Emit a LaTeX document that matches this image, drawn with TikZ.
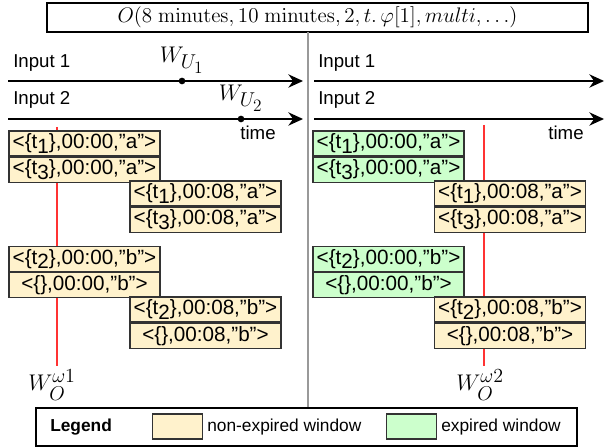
\RequirePackage{fix-cm}
\documentclass[tikz,border=0pt]{standalone}
\usepackage{amsmath}
\usepackage[no-math]{fontspec}
\setmainfont{Liberation Sans}
\usepackage{tikz}
\usetikzlibrary{arrows.meta, positioning}
\definecolor{winyellow}{HTML}{FFF2CC}
\definecolor{wingreen}{HTML}{CCFFCC}
\definecolor{winred}{HTML}{FF3333}
\DeclareMathSizes{17}{17}{15}{13}
\newcommand{\tsub}[1]{\raisebox{-0.45ex}{#1}}
\newcommand{\tfont}{\fontsize{14}{16}\selectfont}

\begin{document}
\begin{tikzpicture}[
  x=0.75pt, y=-0.75pt,
  win/.style={draw=black!80, line width=0.9pt, inner sep=0pt,
              minimum width=113.2pt, minimum height=18.8pt,
              font=\fontsize{15.5}{17}\selectfont},
  winy/.style={win, fill=winyellow},
  wing/.style={win, fill=wingreen},
  swatch/.style={draw=black!80, line width=0.9pt, minimum width=38pt,
                 minimum height=18.8pt, inner sep=0pt},
  tline/.style={-{Stealth[length=11pt, width=10pt]}, line width=1.1pt},
  wline/.style={winred, line width=1.2pt, shorten >=3pt},
  dot/.style={circle, fill, inner sep=0pt, minimum size=5pt},
  lbl/.style={font=\tfont, inner sep=0pt},
  mlbl/.style={font=\fontsize{17}{19}\selectfont, inner sep=0pt}
]
  \useasboundingbox (0,0) rectangle (605,448);

  % - title + divider -
  \node[draw, line width=0.9pt, minimum width=405.8pt, minimum height=21.8pt,
        inner sep=0pt, font=\fontsize{15.8}{18}\selectfont] (title) at (317.5,17.5)
    {$O(8\ \mathrm{minutes}, 10\ \mathrm{minutes}, 2, t.\,\varphi[1], multi, \ldots)$};
  \node[draw, line width=0.9pt, minimum width=405.8pt, minimum height=28.5pt,
        inner sep=0pt] (legend) at (306.5,427) {};
  \coordinate (divtop) at (308,32);
  \draw[black!40, line width=0.8pt] (divtop) -- (divtop |- legend.north);

  % - time lines -
  \coordinate (in1s) at (8,81);   \coordinate (in1e) at (303,81);
  \coordinate (in2s) at (8,119);  \coordinate (in2e) at (303,119);
  \coordinate (in1rs) at (314,81);  \coordinate (in1re) at (604,81);
  \coordinate (in2rs) at (314,119); \coordinate (in2re) at (604,119);
  \draw[tline] (in1s) -- (in1e);
  \draw[tline] (in2s) -- (in2e);
  \draw[tline] (in1rs) -- (in1re);
  \draw[tline] (in2rs) -- (in2re);

  \node[lbl, anchor=west] (inA) at (13,63)  {Input 1};
  \node[lbl, anchor=west] (inB) at (13,100) {Input 2};
  \node[lbl, anchor=west] (inC) at (318,63)  {Input 1};
  \node[lbl, anchor=west] (inD) at (318,100) {Input 2};
  \node[lbl] (timeL) at (258,133) {time};
  \node[lbl] (timeR) at (566,133) {time};

  \node[dot] (u1) at (182,81) {};
  \node[dot] (u2) at (241,119) {};
  \node[mlbl, above=3pt of u1] (wu1) {$W_{U_1}$};
  \node[mlbl, above=3pt of u2] (wu2) {$W_{U_2}$};

  % - watermark lines -
  \node[mlbl] (wo1) at (52,385) {$W_O^{\omega1}$};
  \node[mlbl] (wo2) at (480,385) {$W_O^{\omega2}$};
  \coordinate (w1top) at (57,127);
  \coordinate (w2top) at (484,125);
  \draw[wline] (w1top) -- (w1top |- wo1.north);
  \draw[wline] (w2top) -- (w2top |- wo2.north);

  % - left windows -
  \node[winy] (a1) at (84.5,143.5) {<\{t\tsub{1}\},00:00,"a">};
  \node[winy, below=0pt of a1] (a3) {<\{t\tsub{3}\},00:00,"a">};
  \node[winy] (b1) at (205.5,193.5) {<\{t\tsub{1}\},00:08,"a">};
  \node[winy, below=0pt of b1] (b3) {<\{t\tsub{3}\},00:08,"a">};
  \node[winy] (c2) at (84.5,259) {<\{t\tsub{2}\},00:00,"b">};
  \node[winy, below=0pt of c2] (c0) {<\{\},00:00,"b">};
  \node[winy] (d2) at (205.5,309.5) {<\{t\tsub{2}\},00:08,"b">};
  \node[winy, below=0pt of d2] (d0) {<\{\},00:08,"b">};

  % - right windows -
  \node[wing] (e1) at (388.5,143.5) {<\{t\tsub{1}\},00:00,"a">};
  \node[wing, below=0pt of e1] (e3) {<\{t\tsub{3}\},00:00,"a">};
  \node[winy] (f1) at (510,193.5) {<\{t\tsub{1}\},00:08,"a">};
  \node[winy, below=0pt of f1] (f3) {<\{t\tsub{3}\},00:08,"a">};
  \node[wing] (g2) at (388.5,259) {<\{t\tsub{2}\},00:00,"b">};
  \node[wing, below=0pt of g2] (g0) {<\{\},00:00,"b">};
  \node[winy] (h2) at (510,309.5) {<\{t\tsub{2}\},00:08,"b">};
  \node[winy, below=0pt of h2] (h0) {<\{\},00:08,"b">};

  % - legend -
  \node[lbl, anchor=west, font=\bfseries\fontsize{13}{15}\selectfont] (legtxt) at (50,427) {Legend};
  \node[swatch, fill=winyellow] (swy) at (177.5,426.5) {};
  \node[lbl, anchor=west, font=\fontsize{13}{15}\selectfont] (swytxt) at (207,427) {non-expired window};
  \node[swatch, fill=wingreen] (swg) at (411.5,426.5) {};
  \node[lbl, anchor=west, font=\fontsize{13}{15}\selectfont] (swgtxt) at (441,427) {expired window};
\end{tikzpicture}
\end{document}
